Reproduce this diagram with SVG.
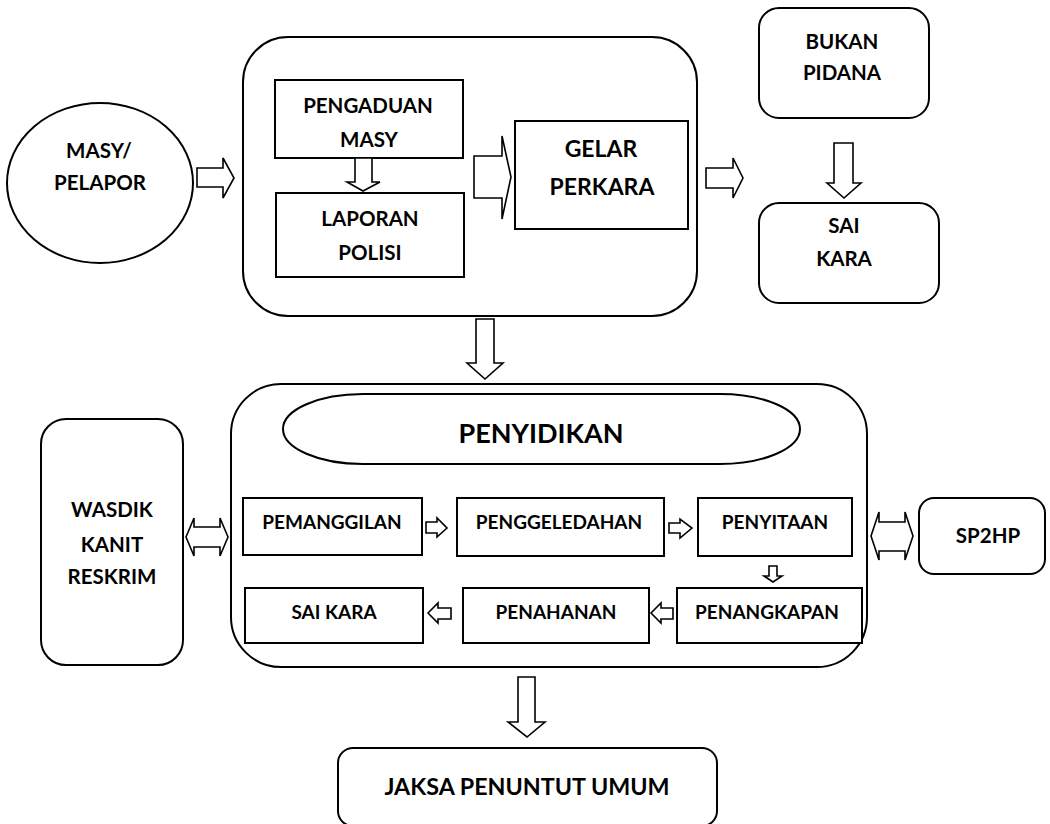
<svg xmlns="http://www.w3.org/2000/svg" width="1050" height="824" viewBox="0 0 1050 824">
<style>
  .box { fill: #ffffff; stroke: #000000; stroke-width: 2; }
  .arr { fill: #ffffff; stroke: #000000; stroke-width: 1.6; stroke-linejoin: miter; }
  text { font-family: "Lato", "Open Sans", sans-serif; font-weight: bold; fill: #000000; text-anchor: middle; }
  .t18 { font-size: 19px; }
  .t19 { font-size: 20.5px; }
  .t20 { font-size: 20.5px; }
  .t22 { font-size: 23px; }
  .t25 { font-size: 27px; }
  .tj { font-size: 23.3px; }
</style>
<rect x="0" y="0" width="1050" height="824" fill="#ffffff"/>

<g id="masy">
  <ellipse class="box" cx="100" cy="183" rx="93" ry="80"/>
  <text class="t20" x="99" y="158">MASY/</text>
  <text class="t20" x="100" y="190">PELAPOR</text>
</g>

<g id="group-laporan">
  <rect class="box" x="243" y="37" width="454" height="279" rx="45" ry="45"/>
</g>
<g id="pengaduan">
  <rect class="box" x="275" y="80" width="188" height="78"/>
  <text class="t19" x="368" y="113">PENGADUAN</text>
  <text class="t19" x="369" y="147">MASY</text>
</g>
<g id="laporan-polisi">
  <rect class="box" x="276" y="193" width="188" height="84"/>
  <text class="t19" x="370" y="226">LAPORAN</text>
  <text class="t19" x="370" y="260">POLISI</text>
</g>
<g id="gelar-perkara">
  <rect class="box" x="515" y="121" width="173" height="108"/>
  <text class="t22" x="601" y="157">GELAR</text>
  <text class="t22" x="602" y="195">PERKARA</text>
</g>
<g id="bukan-pidana">
  <rect class="box" x="759" y="8" width="170" height="110" rx="20" ry="20"/>
  <text class="t19" x="842" y="49">BUKAN</text>
  <text class="t19" x="842" y="80">PIDANA</text>
</g>
<g id="sai-kara-top">
  <rect class="box" x="759" y="203" width="180" height="100" rx="20" ry="20"/>
  <text class="t19" x="844" y="233">SAI</text>
  <text class="t19" x="844" y="266">KARA</text>
</g>

<g id="penyidikan-group">
  <rect class="box" x="231" y="384" width="636" height="283" rx="50" ry="50"/>
</g>
<g id="penyidikan">
  <rect class="box" x="283" y="394" width="517" height="70" rx="80" ry="35"/>
  <text class="t25" x="541" y="443">PENYIDIKAN</text>
</g>
<g id="wasdik">
  <rect class="box" x="41" y="419" width="142" height="246" rx="25" ry="25"/>
  <text class="t19" x="112" y="517">WASDIK</text>
  <text class="t19" x="112" y="552">KANIT</text>
  <text class="t19" x="112" y="584">RESKRIM</text>
</g>
<g id="pemanggilan">
  <rect class="box" x="243" y="498" width="179" height="57"/>
  <text class="t18" x="332" y="529">PEMANGGILAN</text>
</g>
<g id="penggeledahan">
  <rect class="box" x="457" y="498" width="207" height="58"/>
  <text class="t18" x="559" y="529">PENGGELEDAHAN</text>
</g>
<g id="penyitaan">
  <rect class="box" x="698" y="498" width="154" height="58"/>
  <text class="t18" x="775" y="529">PENYITAAN</text>
</g>
<g id="penangkapan">
  <rect class="box" x="677" y="588" width="185" height="55"/>
  <text class="t18" x="767" y="619">PENANGKAPAN</text>
</g>
<g id="penahanan">
  <rect class="box" x="463" y="588" width="186" height="55"/>
  <text class="t18" x="556" y="619">PENAHANAN</text>
</g>
<g id="sai-kara">
  <rect class="box" x="245" y="588" width="178" height="55"/>
  <text class="t18" x="334" y="619">SAI KARA</text>
</g>
<g id="sp2hp">
  <rect class="box" x="919" y="498" width="126" height="76" rx="15" ry="15"/>
  <text class="t19" x="988" y="543">SP2HP</text>
</g>
<g id="jaksa">
  <rect class="box" x="338" y="748" width="379" height="78" rx="15" ry="15"/>
  <text class="tj" x="527" y="795">JAKSA PENUNTUT UMUM</text>
</g>

<g id="connectors">
  <polygon class="arr" points="197,168 223,168 223,158 234,178 223,198 223,187 197,187"/>
  <polygon class="arr" points="355,158 372,158 372,182 380,182 363,191 347,182 355,182"/>
  <polygon class="arr" points="474,156 502,156 502,136 511,177 502,219 502,198 474,198"/>
  <polygon class="arr" points="706,168 733,168 733,158 743,178 733,198 733,188 706,188"/>
  <polygon class="arr" points="834,143 853,143 853,183 861,183 844,198 827,183 834,183"/>
  <polygon class="arr" points="476,319 494,319 494,363 503,363 485,379 467,363 476,363"/>
  <polygon class="arr" points="186,537 194,518 194,527 220,527 220,518 228,537 220,556 220,547 194,547 194,556"/>
  <polygon class="arr" points="871,536 879,512 879,522 905,522 905,512 913,536 905,560 905,551 879,551 879,560"/>
  <polygon class="arr" points="426,522 437,522 437,518 447,528 437,537 437,533 426,533"/>
  <polygon class="arr" points="669,523 680,523 680,519 692,528 680,538 680,533 669,533"/>
  <polygon class="arr" points="769,566 777,566 777,576 782,576 773,582 764,576 769,576"/>
  <polygon class="arr" points="651,613 661,603 661,608 673,608 673,619 661,619 661,623"/>
  <polygon class="arr" points="428,613 438,603 438,608 451,608 451,619 438,619 438,623"/>
  <polygon class="arr" points="518,677 535,677 535,722 545,722 527,737 508,722 518,722"/>
</g>
</svg>
